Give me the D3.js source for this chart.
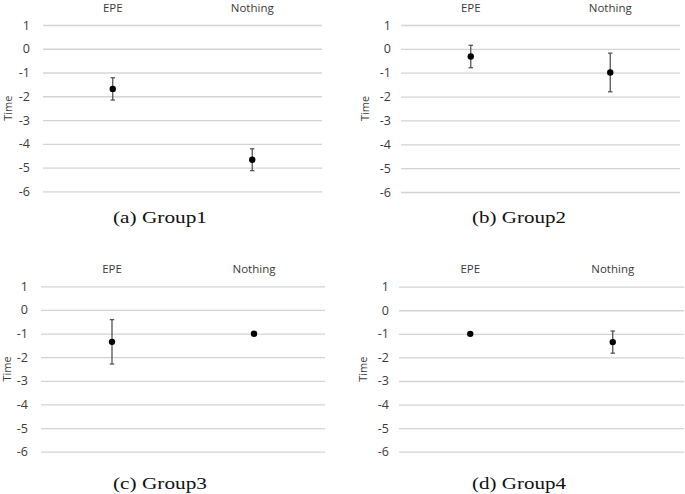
<!DOCTYPE html>
<html><head><meta charset="utf-8">
<script src="https://cdn.jsdelivr.net/npm/d3@7"></script>
<style>
html,body{margin:0;padding:0;background:#fff;}
svg{display:block;}
</style></head>
<body>
<svg id="chart" width="685" height="494"></svg>
<script>
// ---- data ----
const categories = ["EPE", "Nothing"];
const captions = ["(a) Group1", "(b) Group2", "(c) Group3", "(d) Group4"];
const yTicks = [1, 0, -1, -2, -3, -4, -5, -6];
const yLabel = "Time";
const meanGroup1 = [-1.69, -4.67];
const meanGroup2 = [-0.32, -0.99];
const meanGroup3 = [-1.35, -1.01];
const meanGroup4 = [-1.00, -1.35];
const errGroup1 = [0.47, 0.46];
const errGroup2 = [0.47, 0.81];
const errGroup3 = [0.94, 0];
const errGroup4 = [0, 0.47];

const means = [meanGroup1, meanGroup2, meanGroup3, meanGroup4];
const errs = [errGroup1, errGroup2, errGroup3, errGroup4];

// ---- layout ----
const layout = [
  {x0: 43, x1: 322, yTop: 25, yBot: 191.3, tickX: 30, timeX: 8, catY: 12, capX: 160, capY: 223},
  {x0: 401, x1: 680, yTop: 25, yBot: 192, tickX: 391, timeX: 365, catY: 12, capX: 519, capY: 223},
  {x0: 41, x1: 325, yTop: 286.3, yBot: 451.7, tickX: 28, timeX: 7, catY: 273, capX: 160, capY: 489},
  {x0: 399, x1: 684, yTop: 286.7, yBot: 451.7, tickX: 389, timeX: 363, catY: 273, capX: 519, capY: 489}
];

const svg = d3.select("#chart");
const sans = "'Open Sans', 'Noto Sans', sans-serif";
const serif = "'Liberation Serif', 'DejaVu Serif', serif";

layout.forEach((L, i) => {
  const g = svg.append("g");
  const y = d3.scaleLinear().domain([1, -6]).range([L.yTop, L.yBot]);
  const x = d3.scaleBand().domain(categories).range([L.x0, L.x1]);

  // y axis with gridlines
  const ya = g.append("g")
    .attr("transform", `translate(${L.x0},0)`)
    .call(d3.axisLeft(y).tickValues(yTicks).tickFormat(d => String(d))
      .tickSizeInner(-(L.x1 - L.x0)).tickSizeOuter(0).tickPadding(L.x0 - L.tickX));
  ya.select(".domain").remove();
  ya.selectAll(".tick line").attr("stroke", "#d4d4d4").attr("stroke-width", 1.3);
  ya.selectAll(".tick text").attr("fill", "#3a3a3a").style("font-family", sans).style("font-size", "12.5px");

  // category axis at top
  const xa = g.append("g")
    .attr("transform", `translate(0,${L.catY})`)
    .call(d3.axisTop(x).tickSize(0).tickPadding(0));
  xa.select(".domain").remove();
  xa.selectAll(".tick text").attr("fill", "#3a3a3a").attr("dy", "0")
    .style("font-family", sans).style("font-size", "11.5px");

  // y label
  g.append("text")
    .attr("transform", `translate(${L.timeX},${(L.yTop + L.yBot) / 2}) rotate(-90)`)
    .attr("text-anchor", "middle").attr("dy", "0.35em")
    .attr("fill", "#3a3a3a").style("font-family", sans).style("font-size", "11px")
    .text(yLabel);

  const pts = categories.map((c, j) => ({c, m: means[i][j], e: errs[i][j]}));
  const cx = d => x(d.c) + x.bandwidth() / 2;

  // error bars
  const eb = g.selectAll(".eb").data(pts.filter(d => d.e > 0)).join("g");
  const st = sel => sel.attr("stroke", "#555").attr("stroke-width", 1.3);
  eb.append("line").attr("x1", cx).attr("x2", cx)
    .attr("y1", d => y(d.m + d.e)).attr("y2", d => y(d.m - d.e)).call(st);
  eb.append("line").attr("x1", d => cx(d) - 2.2).attr("x2", d => cx(d) + 2.2)
    .attr("y1", d => y(d.m + d.e)).attr("y2", d => y(d.m + d.e)).call(st);
  eb.append("line").attr("x1", d => cx(d) - 2.2).attr("x2", d => cx(d) + 2.2)
    .attr("y1", d => y(d.m - d.e)).attr("y2", d => y(d.m - d.e)).call(st);

  // points
  g.selectAll(".pt").data(pts).join("circle")
    .attr("cx", cx).attr("cy", d => y(d.m)).attr("r", 3.2).attr("fill", "#000");

  // caption
  svg.append("text")
    .attr("x", L.capX).attr("y", L.capY).attr("text-anchor", "middle")
    .attr("fill", "#111").style("font-family", serif).style("font-size", "17.5px")
    .attr("textLength", 94).attr("lengthAdjust", "spacingAndGlyphs")
    .text(captions[i]);
});
</script>
</body></html>
